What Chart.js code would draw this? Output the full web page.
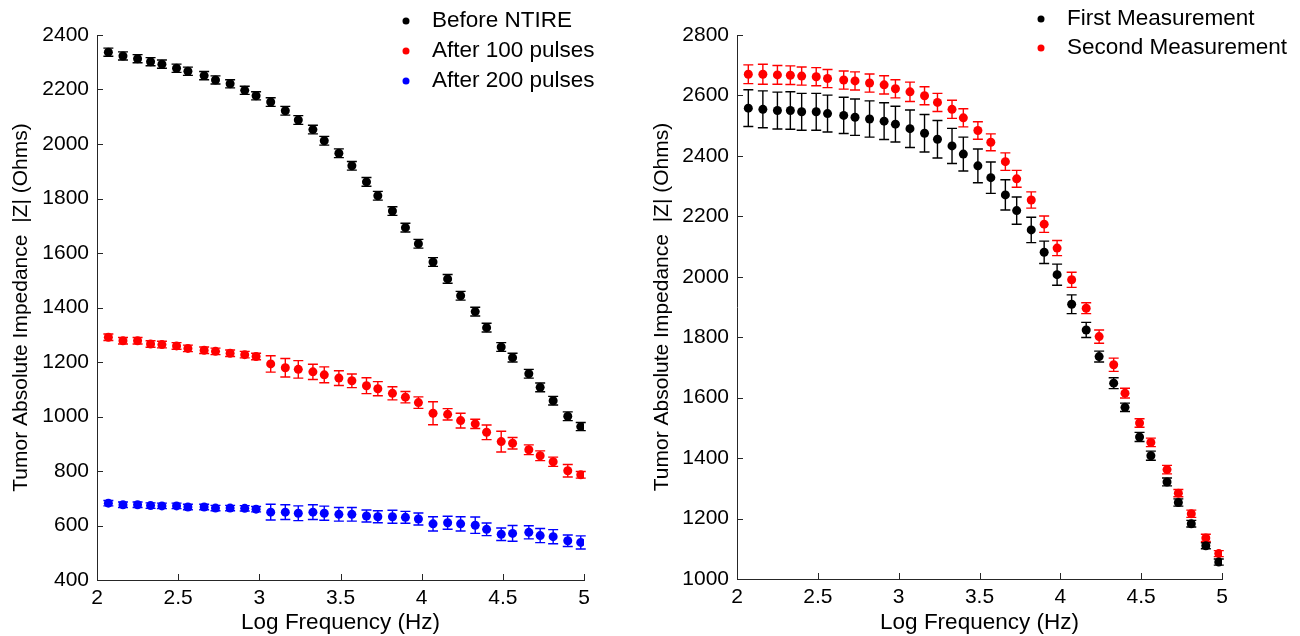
<!DOCTYPE html>
<html>
<head>
<meta charset="utf-8">
<script src="https://cdn.jsdelivr.net/npm/chart.js@4.4.1/dist/chart.umd.min.js"></script>
<style>
body{margin:0;background:#fff;}
#wrap{position:relative;width:1300px;height:636px;}
canvas{position:absolute;top:0;}
#left{left:0;}
#right{left:650px;}
</style>
</head>
<body>
<div id="wrap">
<canvas id="left" width="650" height="636"></canvas>
<canvas id="right" width="650" height="636"></canvas>
</div>
<script>

/* ================= DATA ================= */
// log10 of frequency (Hz), same sweep in both panels
const logFreq = [2.07,2.16,2.25,2.33,2.40,2.49,2.56,2.66,2.73,2.82,2.91,2.98,3.07,3.16,3.24,3.33,3.40,3.49,
3.57,3.66,3.73,3.82,3.90,3.98,4.07,4.16,4.24,4.33,4.40,4.49,4.56,4.66,4.73,4.81,4.90,4.98];

// left panel
const beforeNtire = [2337,2323,2313,2302,2293,2278,2267,2251,2235,2221,2197,2177,2154,2122,2088,2053,2012,1966,
1920,1861,1810,1754,1693,1634,1567,1505,1443,1385,1326,1255,1216,1157,1107,1058,1001,963];
const beforeErr = [15,15,15,15,15,15,15,15,15,15,15,15,16,16,16,16,16,16,
16,16,16,16,16,16,16,16,16,16,16,16,16,16,16,16,16,15];

const after100 = [1291,1278,1278,1266,1264,1259,1250,1243,1239,1232,1227,1220,1193,1179,1173,1164,1153,1141,
1131,1113,1102,1085,1071,1051,1012,1008,985,973,942,908,902,878,856,834,801,786];
const after100Err = [12,12,12,12,12,12,12,12,12,12,12,12,30,34,32,28,29,27,
25,29,26,24,21,21,42,21,27,17,27,38,21,18,18,17,23,12];

const after200 = [682,676,676,673,672,672,668,668,664,664,663,660,649,649,645,649,645,641,
641,635,632,632,630,624,606,610,606,601,586,568,571,575,563,559,544,538];
const after200Err = [10,10,10,10,10,10,10,10,10,10,10,10,29,27,27,27,26,25,
25,22,22,24,22,22,26,24,26,30,23,23,29,24,26,26,21,24];

// right panel
const firstMeas = [2558,2554,2550,2550,2546,2546,2540,2534,2528,2522,2515,2505,2490,2475,2455,2433,2406,2367,
2328,2271,2219,2155,2081,2007,1909,1824,1736,1648,1568,1470,1408,1321,1253,1183,1110,1056];
const firstErr = [61,61,61,62,61,61,61,60,60,60,61,59,62,62,62,58,56,56,
52,50,45,42,37,35,31,25,18,18,14,15,15,13,12,11,10,10];

const secondMeas = [2670,2670,2668,2667,2664,2662,2656,2651,2648,2641,2635,2622,2612,2599,2577,2554,2526,2484,
2445,2381,2324,2254,2174,2095,1990,1896,1802,1709,1615,1516,1452,1362,1284,1216,1136,1084];
const secondErr = [31,33,31,31,30,30,30,30,30,30,30,30,32,30,30,30,30,29,
28,29,28,27,27,25,25,18,22,22,16,14,14,14,12,12,12,10];

const xTicks = [2,2.5,3,3.5,4,4.5,5];

const FAMILY = "'Liberation Sans', Arial, sans-serif";
const FONT = {family:FAMILY, size:21};
const WIDE = {family:FAMILY, size:22.5};
const AXIS = "#262626";


/* ================= HELPERS ================= */
function pts(ys){
return ys.map((v,i)=>({x:logFreq[i], y:v}));
}

function series(label, ys, errs, color){
return {
label: label,
data: pts(ys),
errors: errs,
backgroundColor: color,
borderColor: color,
pointRadius: 4.5,
pointHoverRadius: 4.5,
borderWidth: 0,
showLine: false
};
}


/* ================= PLUGINS ================= */
// vertical error bars with caps, drawn under the markers
const errorBars = {
id:"errorBars",
beforeDatasetsDraw(chart){
let ctx = chart.ctx, xs = chart.scales.x, ys = chart.scales.y;
chart.data.datasets.forEach(ds=>{
ctx.save();
ctx.strokeStyle = ds.borderColor;
ctx.lineWidth = 1.4;
ds.data.forEach((p,i)=>{
let e = ds.errors[i];
let px = xs.getPixelForValue(p.x);
let t = ys.getPixelForValue(p.y + e);
let b = ys.getPixelForValue(p.y - e);
ctx.beginPath();
ctx.moveTo(px,t); ctx.lineTo(px,b);
ctx.moveTo(px-5,t); ctx.lineTo(px+5,t);
ctx.moveTo(px-5,b); ctx.lineTo(px+5,b);
ctx.stroke();
});
ctx.restore();
});
}
};

// inward tick marks like the original figure
const innerTicks = {
id:"innerTicks",
afterDraw(chart){
let ctx = chart.ctx, a = chart.chartArea;
let xs = chart.scales.x, ys = chart.scales.y;
ctx.save();
ctx.strokeStyle = AXIS;
ctx.lineWidth = 1;
ctx.beginPath();
xs.ticks.forEach(t=>{
let px = Math.round(xs.getPixelForValue(t.value)) + 0.5;
ctx.moveTo(px, a.bottom); ctx.lineTo(px, a.bottom - 6);
});
ys.ticks.forEach(t=>{
let py = Math.round(ys.getPixelForValue(t.value)) + 0.5;
ctx.moveTo(a.left, py); ctx.lineTo(a.left + 6, py);
});
ctx.stroke();
ctx.restore();
}
};

// small legend in the upper right corner
const cornerLegend = {
id:"cornerLegend",
afterDraw(chart, args, opts){
let ctx = chart.ctx;
ctx.save();
ctx.font = WIDE.size + "px " + WIDE.family;
ctx.textBaseline = "middle";
ctx.textAlign = "left";
chart.data.datasets.forEach((ds,i)=>{
let y = opts.y + i*opts.step;
ctx.fillStyle = ds.backgroundColor;
ctx.beginPath();
ctx.arc(opts.x, y, 3.5, 0, Math.PI*2);
ctx.fill();
ctx.fillStyle = "#000";
ctx.fillText(ds.label, opts.x + 26, y);
});
ctx.restore();
}
};


/* ================= OPTIONS ================= */
function makeOptions(o){
return {
responsive:false,
animation:false,
events:[],
layout:{padding:{left:0, right:o.padRight, top:35, bottom:0}},
plugins:{
legend:{display:false},
tooltip:{enabled:false},
cornerLegend:o.legend
},
scales:{
x:{
type:"linear",
min:2, max:5,
afterBuildTicks(s){ s.ticks = xTicks.map(v=>({value:v})); },
afterFit(s){ s.height = o.xHeight; },
grid:{display:true, drawOnChartArea:false, drawTicks:false},
border:{display:true, color:AXIS, width:1},
ticks:{color:"#000", font:FONT, padding:6, callback:v=>String(v)},
title:{display:true, text:"Log Frequency (Hz)", color:"#000", font:WIDE, padding:{top:0,bottom:0}}
},
y:{
type:"linear",
min:o.yMin, max:o.yMax,
ticks:{stepSize:200, color:"#000", font:FONT, padding:8, callback:v=>String(v)},
afterFit(s){ s.width = o.yWidth; },
grid:{display:true, drawOnChartArea:false, drawTicks:false},
border:{display:true, color:AXIS, width:1},
title:{display:true, text:"Tumor Absolute Impedance  |Z| (Ohms)", color:"#000", font:FONT, padding:{top:o.titlePad,bottom:0}}
}
}
};
}


/* ================= LEFT ================= */
new Chart(document.getElementById("left"), {
type:"scatter",
data:{
datasets:[
series("Before NTIRE", beforeNtire, beforeErr, "#000000"),
series("After 100 pulses", after100, after100Err, "#ff0000"),
series("After 200 pulses", after200, after200Err, "#0000ff")
]
},
options: makeOptions({padRight:66, xHeight:56, yWidth:97, yMin:400, yMax:2400, titlePad:9,
legend:{x:406, y:21, step:30}}),
plugins:[errorBars, innerTicks, cornerLegend]
});


/* ================= RIGHT ================= */
new Chart(document.getElementById("right"), {
type:"scatter",
data:{
datasets:[
series("First Measurement", firstMeas, firstErr, "#000000"),
series("Second Measurement", secondMeas, secondErr, "#ff0000")
]
},
options: makeOptions({padRight:78, xHeight:57, yWidth:87, yMin:1000, yMax:2800, titlePad:0,
legend:{x:391, y:19, step:29}}),
plugins:[errorBars, innerTicks, cornerLegend]
});

</script>
</body>
</html>
